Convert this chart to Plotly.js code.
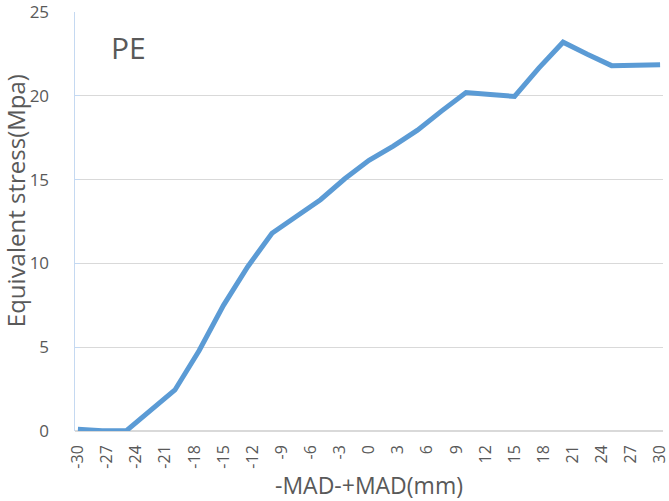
<!DOCTYPE html>
<html>
<head>
<meta charset="utf-8">
<script src="https://cdn.plot.ly/plotly-3.0.1.min.js"></script>
<style>
  html, body { margin: 0; padding: 0; background: #fff; }
  #plotDiv { width: 669px; height: 501px; }
</style>
</head>
<body>
<div id="plotDiv"></div>
<script>
// displacement (mm) and equivalent stress (Mpa)
var displacement = [-30, -27.5, -25, -22.5, -20, -17.5, -15, -12.5, -10, -7.5, -5, -2.5,
    0, 2.5, 5, 7.5, 10, 12.5, 15, 17.5, 20, 22.5, 25, 27.5, 30];
var stressPE = [0.1, 0.02, 0.02, 1.2, 2.45, 4.8, 7.5, 9.8, 11.8, 12.8, 13.8, 15.05,
    16.15, 17.0, 17.95, 19.1, 20.2, 20.08, 19.96, 21.65, 23.2, 22.48, 21.8, 21.82, 21.85];
var xTicks = [-30, -27, -24, -21, -18, -15, -12, -9, -6, -3, 0, 3, 6, 9, 12, 15, 18, 21, 24, 27, 30];
var yTicks = [0, 5, 10, 15, 20, 25];

var fontFamily = '"Open Sans", Lato, sans-serif';
var textGrey = '#595959';

function initializePlotDiv() {
    var plotDiv = document.getElementById('plotDiv');

    var trace_pe = {
        x: displacement,
        y: stressPE,
        mode: 'lines',
        type: 'scatter',
        name: 'PE',
        line: {width: 5, color: '#5b9bd5'}
    };

    var layoutOpt = {
        width: 669,
        height: 501,
        plot_bgcolor: '#ffffff',
        paper_bgcolor: '#ffffff',
        showlegend: false,
        margin: {l: 75, r: 6, t: 12, b: 70},
        font: {family: fontFamily, color: textGrey},
        xaxis: {
            range: [-30.3, 30.3],
            tickvals: xTicks,
            ticktext: xTicks.map(String),
            tickangle: -90,
            showgrid: false,
            zeroline: false,
            showline: false,
            ticks: '',
            ticklabelstandoff: 10,
            ticklabeloverflow: 'allow',
            tickfont: {size: 16, color: textGrey},
            title: {text: '-MAD-+MAD(mm)', font: {size: 23, color: textGrey}, standoff: 10}
        },
        yaxis: {
            range: [0, 25],
            tickvals: yTicks,
            showgrid: true,
            gridcolor: '#d9d9d9',
            gridwidth: 1.3,
            zeroline: true,
            zerolinecolor: '#d9d9d9',
            zerolinewidth: 1.3,
            showline: true,
            linecolor: '#c5d9f1',
            linewidth: 1.5,
            ticks: 'inside',
            ticklen: 5,
            tickcolor: '#c5d9f1',
            ticklabelstandoff: 21,
            ticklabeloverflow: 'allow',
            tickfont: {size: 17, color: textGrey}
        },
        annotations: [{
            // y axis title, placed by hand so it sits clear of the tick labels
            text: 'Equivalent stress(Mpa)',
            xref: 'paper',
            yref: 'paper',
            x: -0.101,
            y: 0.55,
            xanchor: 'center',
            yanchor: 'middle',
            textangle: -90,
            showarrow: false,
            font: {size: 24, color: textGrey, family: fontFamily}
        }, {
            text: 'PE',
            xref: 'paper',
            yref: 'paper',
            x: 0.058,
            y: 0.915,
            xanchor: 'left',
            yanchor: 'middle',
            showarrow: false,
            font: {size: 30, color: textGrey, family: fontFamily}
        }]
    };

    Plotly.newPlot(plotDiv, [trace_pe], layoutOpt, {displayModeBar: false, staticPlot: true});
}

window.onload = function () {
    initializePlotDiv();
};
</script>
</body>
</html>
